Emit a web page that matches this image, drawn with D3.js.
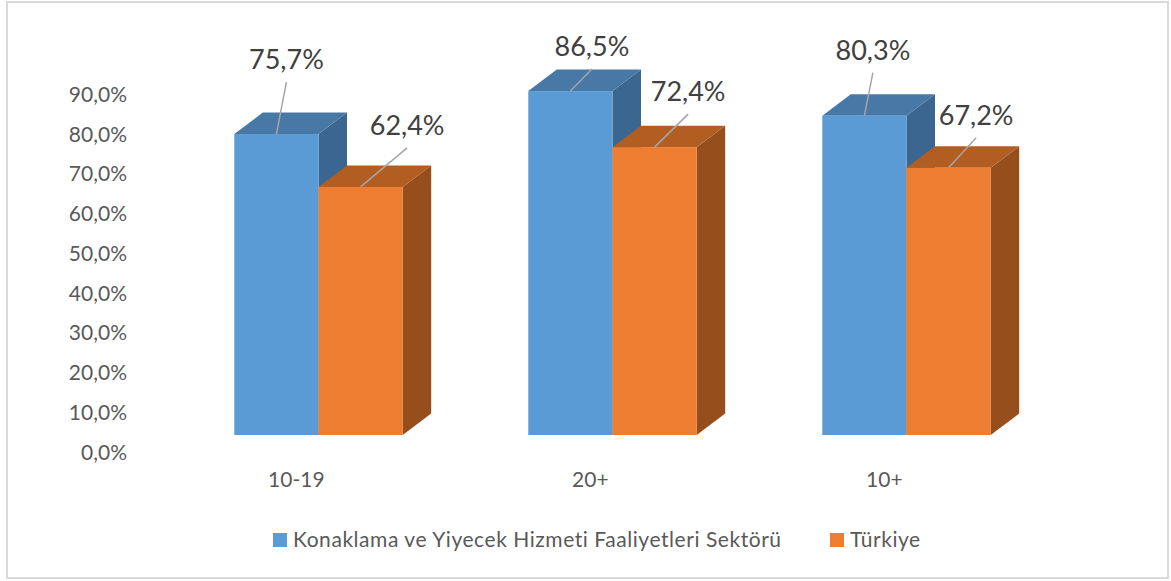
<!DOCTYPE html>
<html><head><meta charset="utf-8">
<script src="https://cdn.jsdelivr.net/npm/d3@7"></script>
<style>html,body{margin:0;padding:0;background:#fff}svg{display:block}text{font-family:Lato,"Noto Sans",sans-serif}</style>
</head><body><script>
const categories = ["10-19","20+","10+"];
const seriesNames = ["Konaklama ve Yiyecek Hizmeti Faaliyetleri Sektörü","Türkiye"];
const sectorValues = [75.7,86.5,80.3];
const turkeyValues = [62.4,72.4,67.2];
const yTicks = [0,10,20,30,40,50,60,70,80,90];

const W=1171,H=581;
const colors=[{front:"#5b9bd5",top:"#4778a6",side:"#3a6690"},{front:"#ed7d31",top:"#b25e22",side:"#964e1c"}];
const depthX=28.5, depthY=21.5;
const base=435, unit=3.976;
// label anchor offsets relative to top-centre of each bar's front face [dx, dy]
const labelOffsets=[[[10,-52],[46.5,-39]],[[21.5,-22],[33.5,-33]],[[8.5,-43],[27.5,-30]]];

const svg=d3.select("body").append("svg").attr("width",W).attr("height",H);
svg.append("rect").attr("x",7).attr("y",2).attr("width",1161).attr("height",576)
  .attr("fill","#fff").attr("stroke","#d9d9d9").attr("stroke-width",2);

const y=d3.scaleLinear().domain([0,90]).range([base,base-90*unit]);
const x=d3.scaleBand().domain(categories).range([234.3,234.3+294*3]).paddingInner(0).paddingOuter(0);
const sub=d3.scaleBand().domain([0,1]).range([0,168.4]);

// value axis (labels only), shifted below the floor as in the 3D projection
const yAxis=d3.axisLeft(y).tickValues(yTicks).tickSize(0).tickPadding(0)
  .tickFormat(d=>d.toFixed(1).replace(".",",")+"%");
const gy=svg.append("g").attr("transform","translate(127,17.5)").call(yAxis);
gy.select(".domain").remove();
gy.selectAll("text").attr("font-size",21).attr("fill","#595959");

// category axis (labels only)
const xAxis=d3.axisBottom(x).tickSize(0).tickPadding(0);
const gx=svg.append("g").attr("transform","translate(-85,472)").call(xAxis);
gx.select(".domain").remove();
gx.selectAll("text").attr("font-size",21).attr("fill","#595959").attr("dy","0.71em").attr("y",0);

const rows=categories.map((c,i)=>({c,i,vals:[sectorValues[i],turkeyValues[i]]}));
const groups=svg.selectAll("g.cat").data(rows).join("g").attr("class","cat")
  .attr("transform",d=>`translate(${x(d.c)},0)`);

groups.each(function(d){
  const g=d3.select(this);
  [0,1].forEach(s=>{
    const v=d.vals[s],x0=sub(s),x1=x0+sub.bandwidth(),t=y(v),c=colors[s];
    g.append("path").attr("d",`M${x1},${t}L${x1+depthX},${t-depthY}L${x1+depthX},${base-depthY}L${x1},${base}Z`).attr("fill",c.side);
    g.append("path").attr("d",`M${x0},${t}L${x0+depthX},${t-depthY}L${x1+depthX},${t-depthY}L${x1},${t}Z`).attr("fill",c.top);
    g.append("rect").attr("x",x0).attr("y",t).attr("width",x1-x0).attr("height",base-t).attr("fill",c.front);
  });
  [0,1].forEach(s=>{
    const v=d.vals[s],cx=sub(s)+sub.bandwidth()/2,t=y(v),[dx,dy]=labelOffsets[d.i][s];
    g.append("line").attr("x1",cx).attr("y1",t).attr("x2",cx+dx).attr("y2",t+dy)
      .attr("stroke","#a6a6a6").attr("stroke-width",1.5);
    g.append("text").attr("x",cx+dx).attr("y",t+dy-13).attr("text-anchor","middle")
      .attr("font-size",27).attr("fill","#404040")
      .text(v.toFixed(1).replace(".",",")+"%");
  });
});

// legend
const legendX=[273,830];
const legend=svg.selectAll("g.leg").data(seriesNames).join("g").attr("class","leg")
  .attr("transform",(d,i)=>`translate(${legendX[i]},533)`);
legend.append("rect").attr("width",14).attr("height",14).attr("fill",(d,i)=>colors[i].front);
legend.append("text").attr("x",20).attr("y",14).attr("font-size",21).attr("letter-spacing",0.55).attr("fill","#595959").text(d=>d);
</script></body></html>
